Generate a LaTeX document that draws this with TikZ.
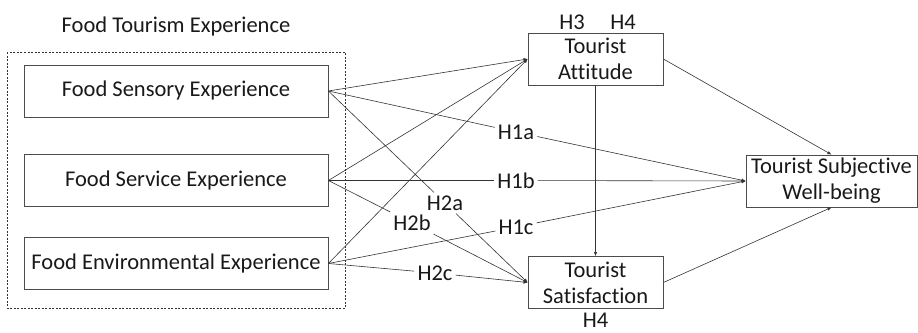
\documentclass[tikz,border=0pt]{standalone}
\usepackage{fontspec}
\setmainfont[Ligatures=NoCommon]{Carlito}
\usetikzlibrary{arrows.meta}

\begin{document}
\begin{tikzpicture}[x=1pt,y=-1pt,
                    font=\fontsize{22.5}{26}\selectfont,
                    every node/.style={text=black!90},
                    main node/.style={draw=black!70,line width=0.8pt,minimum height=52pt,inner sep=0pt,align=center},
                    exp node/.style={main node,minimum width=304pt},
                    out node/.style={main node,minimum width=135pt},
                    hyp/.style={inner sep=3pt},
                    link/.style={draw=black!80,line width=0.6pt},
                    arrow/.style={link,-{Latex[length=4pt,width=3.5pt]}}]

    \useasboundingbox (0,0) rectangle (918,332);

    % Define vertices
    \node (title) at (176,27) {Food Tourism Experience};
    \draw[black!80,line width=0.6pt,dash pattern=on 2pt off 1.5pt] (7,52) rectangle (345,308);

    \node[exp node] (S) at (176,91) {Food Sensory Experience};
    \node[exp node] (V) at (176,180.5) {Food Service Experience};
    \node[exp node] (E) at (176,263.5) {Food Environmental Experience};

    \node[out node] (A) at (595.5,59) {Tourist\\Attitude};
    \node[out node] (T) at (595.5,282.5) {Tourist\\Satisfaction};
    \node[main node,minimum width=171pt] (W) at (831.5,181) {Tourist Subjective\\Well-being};

    \node (h3) at (572,22) {H3};
    \node (h4a) at (623,22) {H4};
    \node (h4b) at (595.5,320) {H4};

    % Hypothesis labels
    \node[hyp] (H1a) at (516,132) {H1a};
    \node[hyp] (H1b) at (516,180.5) {H1b};
    \node[hyp] (H1c) at (516,227) {H1c};
    \node[hyp] (H2a) at (445,203) {H2a};
    \node[hyp] (H2b) at (412,223) {H2b};
    \node[hyp] (H2c) at (435,273) {H2c};

    % Define edges
    \foreach \from in {S,V,E}
        \draw[arrow] (\from.east) -- (A.west);

    \draw[link] (S.east) -- (H1a);
    \draw[arrow] (H1a) -- (W.west);
    \draw[link] (V.east) -- (H1b);
    \draw[arrow] (H1b) -- (W.west);
    \draw[link] (E.east) -- (H1c);
    \draw[arrow] (H1c) -- (W.west);

    \draw[link] (S.east) -- (H2a);
    \draw[arrow] (H2a) -- (T.west);
    \draw[link] (V.east) -- (H2b);
    \draw[arrow] (H2b) -- (T.west);
    \draw[link] (E.east) -- (H2c);
    \draw[arrow] (H2c) -- (T.west);

    \draw[arrow] (A.south) -- (T.north);
    \draw[arrow] (A.east) -- (W.north);
    \draw[arrow] (T.east) -- (W.south);

    \end{tikzpicture}
\end{document}
